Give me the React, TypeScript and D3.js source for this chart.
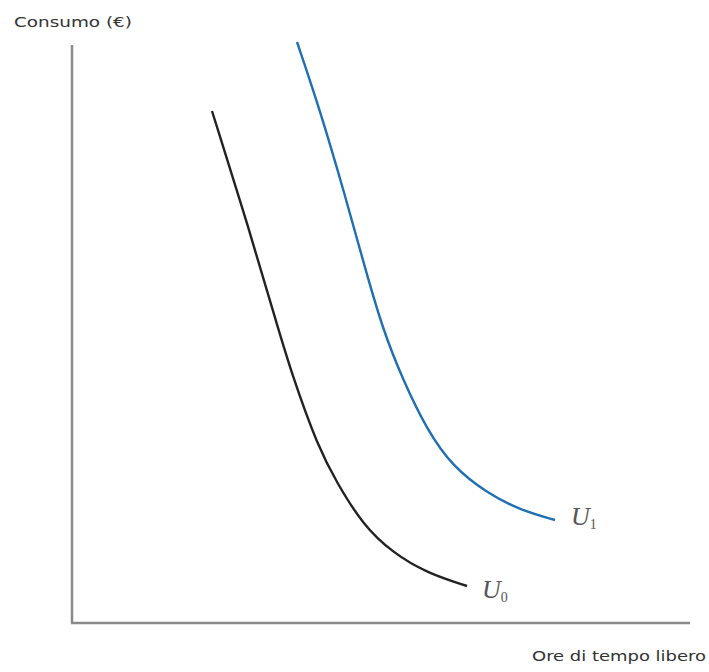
import React from "react";
import * as d3 from "d3";

const u0X = [2.265, 2.88, 3.285, 3.56, 3.981, 4.288, 4.709, 5.194, 5.744, 6.392];
const u0Y = [8.858, 6.765, 5.277, 4.291, 3.045, 2.422, 1.696, 1.211, 0.865, 0.64];
const u1X = [3.641, 4.013, 4.417, 4.741, 5.032, 5.356, 5.744, 6.165, 6.715, 7.249, 7.816];
const u1Y = [10.052, 8.875, 7.405, 6.142, 5.069, 4.204, 3.339, 2.699, 2.249, 1.955, 1.782];
const curveNames = ["U", "U"];
const curveSubs = ["0", "1"];
const yTitle = "Consumo (€)";
const xTitle = "Ore di tempo libero";

const W = 709;
const H = 672;
const X0 = 72, X1 = 690, Y0 = 623, Y1 = 45;

export default function App() {
  const x = d3.scaleLinear().domain([0, 10]).range([X0, X1]);
  const y = d3.scaleLinear().domain([0, 10]).range([Y0, Y1]);
  const line = d3
    .line<[number, number]>()
    .x((d) => x(d[0]))
    .y((d) => y(d[1]))
    .curve(d3.curveBasis);
  const p0 = u0X.map((v, i) => [v, u0Y[i]] as [number, number]);
  const p1 = u1X.map((v, i) => [v, u1Y[i]] as [number, number]);
  const last0 = p0[p0.length - 1];
  const last1 = p1[p1.length - 1];
  return (
    <svg width={W} height={H} style={{ position: "absolute", left: 0, top: 0, background: "#fff" }}>
      <line x1={x(0)} x2={x(0)} y1={Y1} y2={y(0)} stroke="#8a8a8a" strokeWidth={2.5} />
      <line x1={x(0) - 1} x2={X1} y1={y(0)} y2={y(0)} stroke="#8a8a8a" strokeWidth={2.5} />
      <path d={line(p0) || ""} fill="none" stroke="#222" strokeWidth={2.4} />
      <path d={line(p1) || ""} fill="none" stroke="#1f6fb2" strokeWidth={2.4} />
      <text x={x(last0[0]) + 15} y={y(last0[1]) + 12} fontFamily="Liberation Serif, serif" fontStyle="italic" fontSize={26} fill="#555">
        {curveNames[0]}
        <tspan fontStyle="normal" fontSize={14} dy={4}>{curveSubs[0]}</tspan>
      </text>
      <text x={x(last1[0]) + 16} y={y(last1[1]) + 5} fontFamily="Liberation Serif, serif" fontStyle="italic" fontSize={26} fill="#555">
        {curveNames[1]}
        <tspan fontStyle="normal" fontSize={14} dy={4}>{curveSubs[1]}</tspan>
      </text>
      <text x={14} y={27} fontFamily="DejaVu Sans, sans-serif" fontSize={14} fill="#333" textLength={118} lengthAdjust="spacingAndGlyphs">
        {yTitle}
      </text>
      <text x={532} y={661} fontFamily="DejaVu Sans, sans-serif" fontSize={14} fill="#333" textLength={174} lengthAdjust="spacingAndGlyphs">
        {xTitle}
      </text>
    </svg>
  );
}
